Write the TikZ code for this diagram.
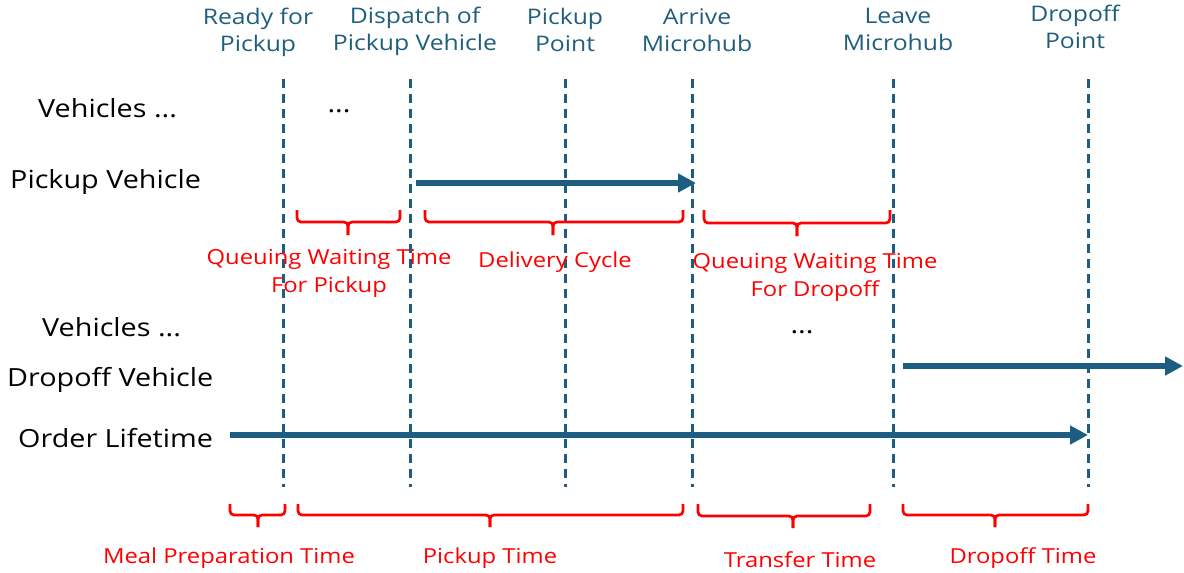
\documentclass[tikz,border=0pt]{standalone}
\usepackage{fontspec}
\setmainfont{Open Sans}[FakeStretch=1.15]
\usetikzlibrary{arrows.meta}
\definecolor{lineblue}{RGB}{28,94,130}
\definecolor{labelblue}{RGB}{31,95,125}
\definecolor{spanred}{RGB}{255,0,0}
\tikzset{
  milestone/.style={draw=lineblue, line width=3pt, dash pattern=on 9pt off 6pt},
  flow/.style={draw=lineblue, line width=5.5pt, -{Triangle[length=18pt,width=18pt]}},
  span/.style={draw=spanred, line width=2.7pt, rounded corners=4pt},
  event/.style={text=labelblue, font=\fontsize{21.5}{27}\selectfont, align=center, inner sep=0pt},
  rowlabel/.style={text=black, font=\fontsize{25}{28}\selectfont, anchor=west, inner sep=0pt},
  spanlabel/.style={text=spanred, font=\fontsize{20.7}{28}\selectfont, align=center, inner sep=0pt},
  dots/.style={text=black, font=\fontsize{25}{28}\selectfont, inner sep=0pt},
}
% bracket under a time span: ends at x1 and x2, tick at xm
\newcommand\spanbrace[6]{%
  \draw[span] (#1,#4) -- (#1,#5) -- (#3,#5) -- (#3,#6);
  \draw[span] (#3,#6) -- (#3,#5) -- (#2,#5) -- (#2,#4);
}
\begin{document}
\begin{tikzpicture}[x=1pt, y=-1pt]
  \useasboundingbox (0,0) rectangle (1184,573);

  % events along the timeline
  \node[event] (ready)    at (258,32) {Ready for\\Pickup};
  \node[event] (dispatch) at (415,31) {Dispatch of\\Pickup Vehicle};
  \node[event] (ppoint)   at (565,30) {Pickup\\Point};
  \node[event] (arrive)   at (697,30) {Arrive\\Microhub};
  \node[event] (leave)    at (898,29) {Leave\\Microhub};
  \node[event] (dpoint)   at (1075,27) {Dropoff\\Point};

  % milestone lines
  \foreach \n/\x in {ready/283, dispatch/410, ppoint/565, arrive/692, leave/893, dpoint/1088} {
    \coordinate (\n-top) at (\x,79);
    \coordinate (\n-bot) at (\x,487);
    \draw[milestone] (\n-top) -- (\n-bot);
  }

  % row labels
  \node[rowlabel] (veh1)  at (38,108)  {Vehicles ...};
  \node[rowlabel] (pveh)  at (10,182)  {Pickup Vehicle};
  \node[rowlabel] (veh2)  at (42,327)  {Vehicles ...};
  \node[rowlabel] (dveh)  at (7,380)   {Dropoff Vehicle};
  \node[rowlabel] (order) at (18,438)  {Order Lifetime};

  \node[dots] (more1) at (339,111) {...};
  \node[dots] (more2) at (802,332) {...};

  % vehicle and order movements
  \coordinate (pv-start) at (416,183);
  \coordinate (pv-end)   at (696,183);
  \coordinate (dv-start) at (903,366);
  \coordinate (dv-end)   at (1183,366);
  \coordinate (ol-start) at (230,435);
  \coordinate (ol-end)   at (1088,435);
  \draw[flow] (pv-start) -- (pv-end);
  \draw[flow] (dv-start) -- (dv-end);
  \draw[flow] (ol-start) -- (ol-end);

  % vehicle waiting and cycle spans
  \spanbrace{297}{400}{348}{210}{222}{235}
  \spanbrace{425}{683}{553}{210}{222}{235}
  \spanbrace{704}{890}{797}{210}{223}{236}
  \node[spanlabel] (qpick) at (329,273) {Queuing Waiting Time\\For Pickup};
  \node[spanlabel] (cycle) at (555,262) {Delivery Cycle};
  \node[spanlabel] (qdrop) at (815,277) {Queuing Waiting Time\\For Dropoff};

  % order spans
  \spanbrace{230}{285}{258}{504}{515}{527}
  \spanbrace{298}{683}{490}{504}{515}{527}
  \spanbrace{698}{870}{793}{504}{516}{528}
  \spanbrace{903}{1088}{995}{504}{515}{527}
  \node[spanlabel] (meal)     at (229,558) {Meal Preparation Time};
  \node[spanlabel] (pickup)   at (490,558) {Pickup Time};
  \node[spanlabel] (transfer) at (800,560) {Transfer Time};
  \node[spanlabel] (dropoff)  at (1023,558) {Dropoff Time};
\end{tikzpicture}
\end{document}
